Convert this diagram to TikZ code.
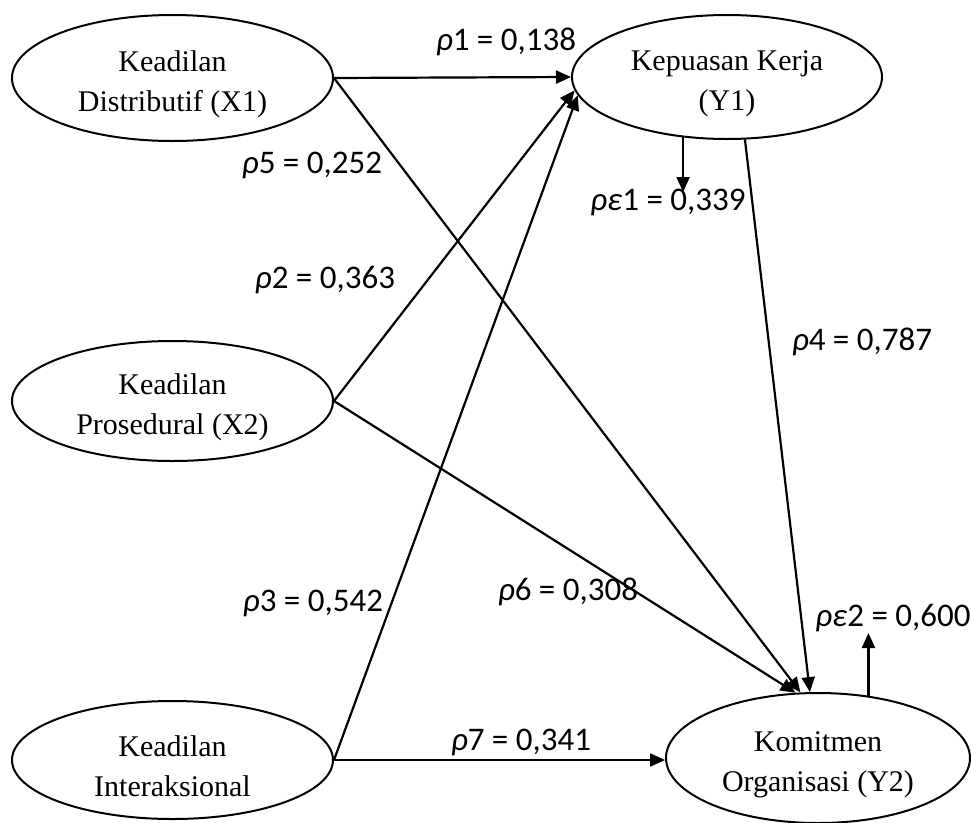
\documentclass[tikz,border=0pt]{standalone}
\usepackage{fontspec}
\setmainfont{Liberation Serif}
\newfontfamily\lblfont{Carlito}
\usetikzlibrary{shapes.geometric,arrows.meta}
\newcommand{\tpad}{\rule{0pt}{33pt}}
\begin{document}
\begin{tikzpicture}[x=1pt,y=-1pt,
  var/.style={draw, line width=2pt, ellipse, inner sep=0pt, align=center,
              font=\fontsize{30}{40}\selectfont},
  lbl/.style={font=\lblfont\fontsize{33}{36}\selectfont, inner sep=0pt},
  arr/.style={line width=2.2pt, -{Triangle[length=15pt,width=13pt]}}
]
\useasboundingbox (0,0) rectangle (971,822);

\node[var, minimum width=321pt, minimum height=126pt] (X1) at (172.5,78) {\tpad Keadilan\\Distributif (X1)};
\node[var, minimum width=310pt, minimum height=124pt] (Y1) at (727,77) {\tpad Kepuasan Kerja\\(Y1)};
\node[var, minimum width=321pt, minimum height=120pt] (X2) at (172.5,401) {\tpad Keadilan\\Prosedural (X2)};
\node[var, minimum width=321pt, minimum height=118pt] (X3) at (172.5,760) {\tpad Keadilan\\Interaksional};
\node[var, minimum width=304pt, minimum height=130pt] (Y2) at (818,758) {\tpad Komitmen\\Organisasi (Y2)};

\draw[arr] (X1.east) -- (Y1.west);
\draw[arr] (X2.east) -- (Y1.185);
\draw[arr] (X3.east) -- (Y1.187);
\draw[arr] (X1.east) -- (Y2.105);
\draw[arr] (X2.east) -- (Y2.109);
\draw[arr] (Y1.-74) -- (Y2.97);
\draw[arr] (X3.east) -- (X3.east -| Y2.west);
\coordinate (e1) at (683,192);
\draw[arr] (Y1.-126) -- (Y1.-126 |- e1);
\coordinate (e2) at (868,633);
\draw[arr] (Y2.51) -- (Y2.51 |- e2);

\node[lbl] (l1) at (506,42) {\textit{ρ}1 = 0,138};
\node[lbl] (l5) at (312,165) {\textit{ρ}5 = 0,252};
\node[lbl] (l2) at (325,280) {\textit{ρ}2 = 0,363};
\node[lbl] (le1) at (668,202) {\textit{ρε}1 = 0,339};
\node[lbl] (l4) at (862,342) {\textit{ρ}4 = 0,787};
\node[lbl] (l3) at (313,603) {\textit{ρ}3 = 0,542};
\node[lbl] (l6) at (568,592) {\textit{ρ}6 = 0,308};
\node[lbl] (le2) at (893,618) {\textit{ρε}2 = 0,600};
\node[lbl] (l7) at (521,742) {\textit{ρ}7 = 0,341};
\end{tikzpicture}
\end{document}
